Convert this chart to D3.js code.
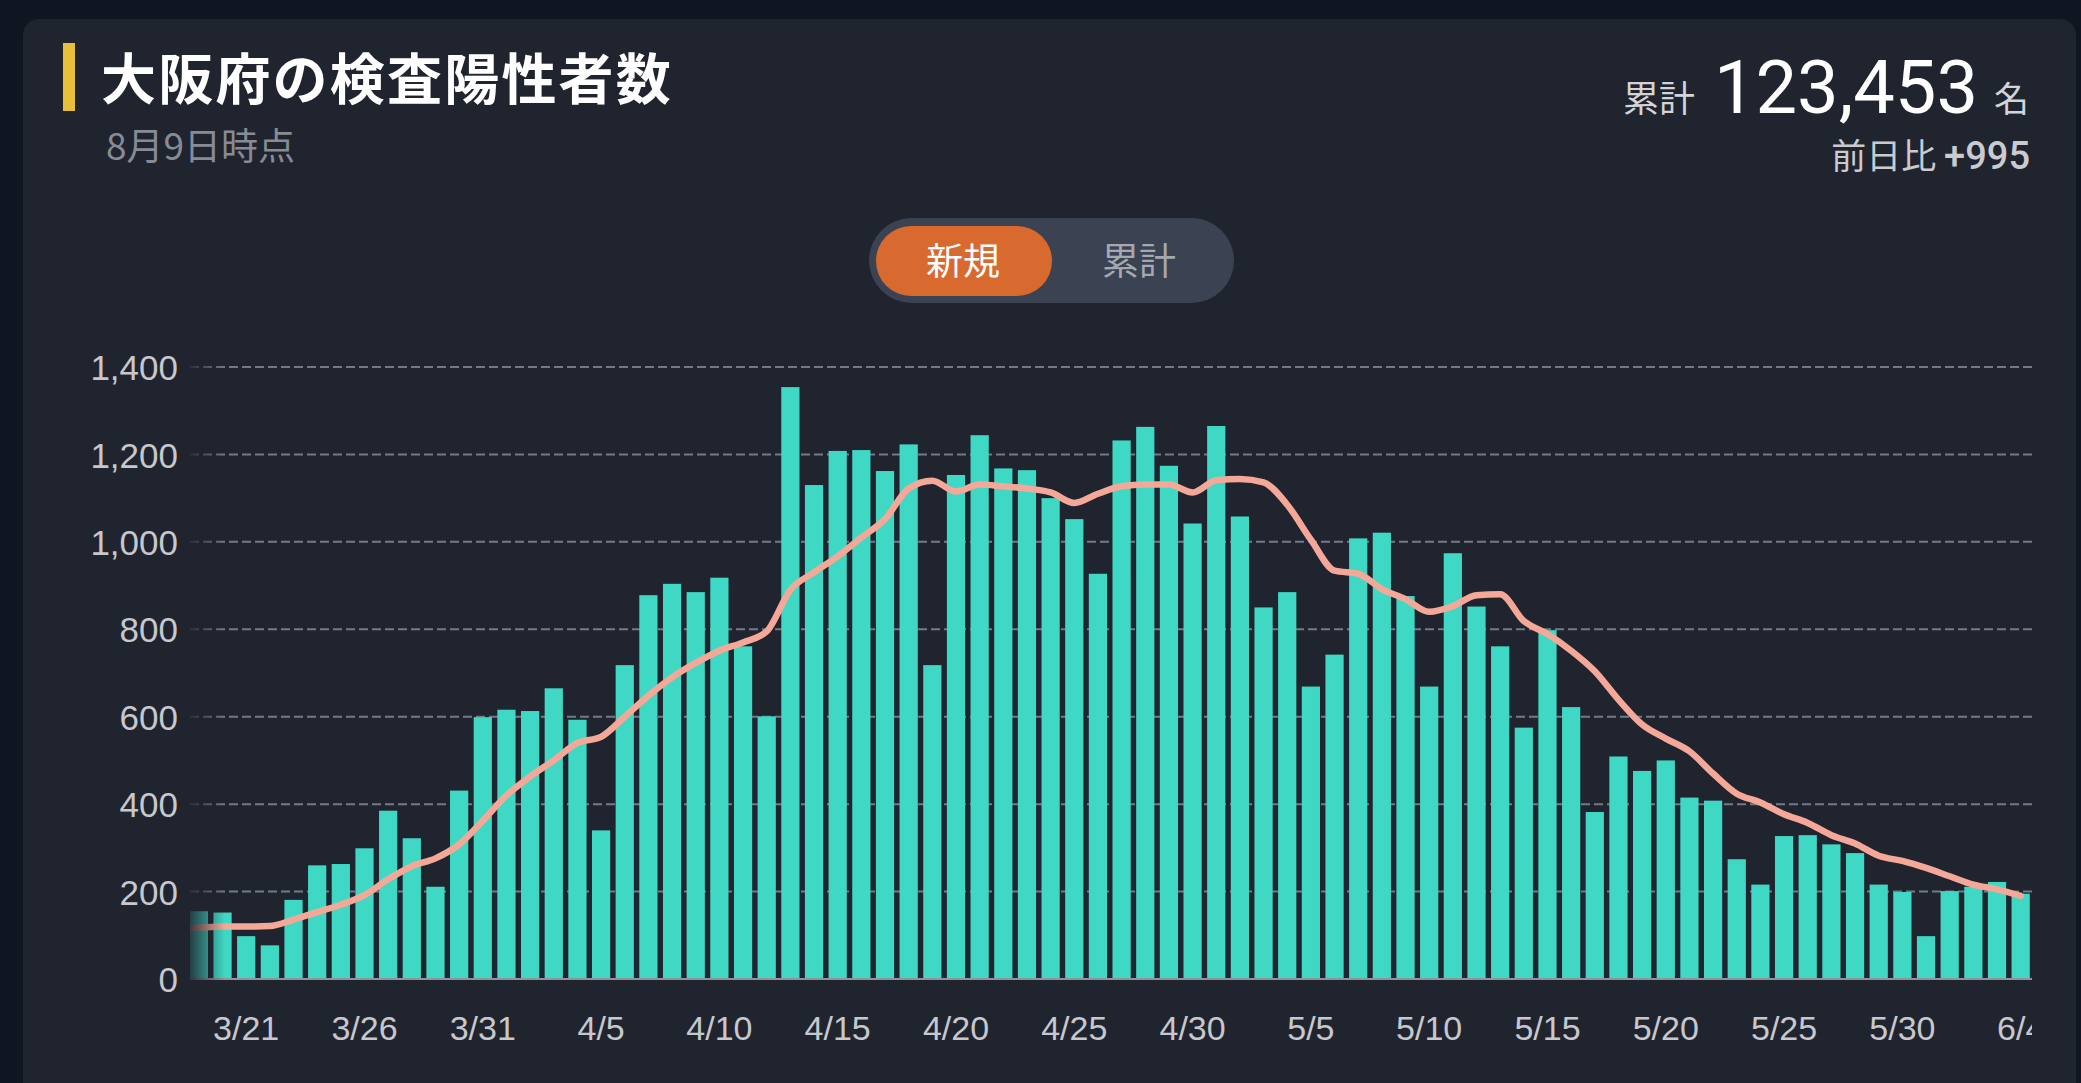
<!DOCTYPE html>
<html><head><meta charset="utf-8">
<script src="https://cdn.jsdelivr.net/npm/d3@7"></script>
<style>
html,body{margin:0;padding:0;background:#0f1621;}
svg{display:block;}
</style></head>
<body>
<svg id="c" width="2081" height="1083"></svg>
<script>
// ---- data ----
const dates = [
 "3/19","3/20","3/21","3/22","3/23","3/24","3/25","3/26","3/27","3/28","3/29","3/30","3/31",
 "4/1","4/2","4/3","4/4","4/5","4/6","4/7","4/8","4/9","4/10","4/11","4/12","4/13","4/14","4/15",
 "4/16","4/17","4/18","4/19","4/20","4/21","4/22","4/23","4/24","4/25","4/26","4/27","4/28","4/29","4/30",
 "5/1","5/2","5/3","5/4","5/5","5/6","5/7","5/8","5/9","5/10","5/11","5/12","5/13","5/14","5/15",
 "5/16","5/17","5/18","5/19","5/20","5/21","5/22","5/23","5/24","5/25","5/26","5/27","5/28","5/29","5/30","5/31",
 "6/1","6/2","6/3","6/4"
];
const newCases = [
 155,152,98,77,181,260,263,299,385,322,211,431,599,
 616,613,665,593,340,718,878,904,885,918,761,601,1354,1130,1208,
 1210,1162,1223,718,1153,1244,1168,1164,1100,1052,927,1232,1263,1174,1042,
 1265,1058,850,885,669,742,1008,1021,876,669,974,852,761,575,798,
 622,382,509,476,500,415,408,274,216,327,329,308,288,216,199,98,
 201,211,222,195
];
const avg7 = [
 117,120,120,121,136,153,170,192,228,258,276,308,362,
 420,463,500,540,554,600,648,690,723,751,770,795,890,930,967,
 1010,1052,1122,1140,1115,1131,1127,1122,1113,1089,1110,1127,1131,1131,1113,
 1141,1144,1136,1085,1005,934,927,892,869,840,853,878,880,819,789,
 751,704,639,582,550,521,470,424,404,377,357,329,310,282,270,254,
 235,216,205,190
];
const avgLeadIn = 114; // 7-day average on 3/18 (just off the left edge)
const xTickLabels = ["3/21","3/26","3/31","4/5","4/10","4/15","4/20","4/25","4/30","5/5","5/10","5/15","5/20","5/25","5/30","6/4"];
const yTicks = [0,200,400,600,800,1000,1200,1400];
const titleText = "大阪府の検査陽性者数";
const asOfText = "8月9日時点";
const totalLabel = "累計";
const totalValue = "123,453";
const totalUnit = "名";
const deltaLabel = "前日比";
const deltaValue = "+995";
const toggleLabels = ["新規","累計"];

// ---- drawing ----
const W = 2081, H = 1083;
const svg = d3.select("#c");
const CJK = "'Noto Sans CJK JP','Noto Sans CJK SC',sans-serif";
const NUM = "Roboto,'Noto Sans',sans-serif";
const AX = "'Liberation Sans',Arial,sans-serif";
const cardColor = "#20242f";

svg.append("rect").attr("width", W).attr("height", H).attr("fill", "#0f1621");
svg.append("rect").attr("x", 23).attr("y", 19).attr("width", 2053).attr("height", 1200)
   .attr("rx", 16).attr("fill", cardColor);

// header
svg.append("rect").attr("x", 63).attr("y", 43).attr("width", 12).attr("height", 68)
   .attr("fill", "#e8bf3a");
svg.append("text").attr("x", 101).attr("y", 75).attr("dominant-baseline", "central")
   .attr("font-family", CJK).attr("font-weight", 700).attr("font-size", 55)
   .attr("letter-spacing", 2.2).attr("fill", "#ffffff").text(titleText);
svg.append("text").attr("x", 106).attr("y", 144).attr("dominant-baseline", "central")
   .attr("font-family", CJK).attr("font-size", 37).attr("fill", "#868b95").text(asOfText);

svg.append("text").attr("x", 1695).attr("y", 112).attr("text-anchor", "end")
   .attr("font-family", CJK).attr("font-size", 36).attr("fill", "#d2d4d8").text(totalLabel);
svg.append("text").attr("x", 1978).attr("y", 113).attr("text-anchor", "end")
   .attr("font-family", NUM).attr("font-size", 74).attr("fill", "#ffffff").text(totalValue);
svg.append("text").attr("x", 2029).attr("y", 112).attr("text-anchor", "end")
   .attr("font-family", CJK).attr("font-size", 35).attr("fill", "#d2d4d8").text(totalUnit);
const dt = svg.append("text").attr("x", 2030).attr("y", 169).attr("text-anchor", "end")
   .attr("fill", "#c9cbcf");
dt.append("tspan").attr("font-family", CJK).attr("font-size", 35).text(deltaLabel + " ");
dt.append("tspan").attr("font-family", NUM).attr("font-size", 38).attr("font-weight", 500).text(deltaValue);

// toggle
svg.append("rect").attr("x", 869).attr("y", 218).attr("width", 365).attr("height", 85)
   .attr("rx", 42.5).attr("fill", "#3b4252");
svg.append("rect").attr("x", 876).attr("y", 226).attr("width", 176).attr("height", 70)
   .attr("rx", 35).attr("fill", "#d96a2f");
svg.append("text").attr("x", 963).attr("y", 259).attr("text-anchor", "middle")
   .attr("dominant-baseline", "central").attr("font-family", CJK).attr("font-size", 37)
   .attr("fill", "#ffffff").text(toggleLabels[0]);
svg.append("text").attr("x", 1139).attr("y", 259).attr("text-anchor", "middle")
   .attr("dominant-baseline", "central").attr("font-family", CJK).attr("font-size", 37)
   .attr("fill", "#a4a8b0").text(toggleLabels[1]);

// scales
const x = d3.scaleBand().domain(dates).range([187.05, 2032.5])
  .paddingInner(0.23).paddingOuter(0.115);
const y = d3.scaleLinear().domain([0, 1400]).range([979, 367]);
const plotL = 190, plotR = 2032;

const defs = svg.append("defs");
defs.append("clipPath").attr("id", "plotClip").append("rect")
  .attr("x", plotL).attr("y", 300).attr("width", plotR - plotL).attr("height", 700);
defs.append("clipPath").attr("id", "axisClip").append("rect")
  .attr("x", plotL - 5).attr("y", 985).attr("width", plotR - plotL + 5).attr("height", 90);
const grad = defs.append("linearGradient").attr("id", "fade")
  .attr("x1", 0).attr("x2", 1).attr("y1", 0).attr("y2", 0);
grad.append("stop").attr("offset", 0).attr("stop-color", cardColor).attr("stop-opacity", 0.92);
grad.append("stop").attr("offset", 1).attr("stop-color", cardColor).attr("stop-opacity", 0);

// gridlines
svg.append("g").selectAll("line").data(yTicks.filter(d => d > 0)).join("line")
  .attr("x1", plotL).attr("x2", plotR)
  .attr("y1", d => y(d)).attr("y2", d => y(d))
  .attr("stroke", "#737988").attr("stroke-width", 2).attr("stroke-dasharray", "9 4");

// y axis labels
const yAxis = svg.append("g").attr("transform", "translate(178,0)")
  .call(d3.axisLeft(y).tickValues(yTicks).tickFormat(d3.format(",")).tickSize(0).tickPadding(0));
yAxis.select(".domain").remove();
yAxis.selectAll("text").attr("font-family", AX).attr("font-size", 35)
  .attr("fill", "#c6c8cd").attr("dy", "0.36em");

// bars
const plot = svg.append("g").attr("clip-path", "url(#plotClip)");
plot.selectAll("rect.bar").data(newCases).join("rect").attr("class", "bar")
  .attr("x", (d, i) => x(dates[i])).attr("width", x.bandwidth())
  .attr("y", d => y(d)).attr("height", d => y(0) - y(d))
  .attr("fill", "#3fd8c4");

// baseline
svg.append("line").attr("x1", plotL).attr("x2", plotR).attr("y1", y(0)).attr("y2", y(0))
  .attr("stroke", "#8e939c").attr("stroke-width", 2);

// left fade (scrolled chart)
svg.append("rect").attr("x", plotL - 3).attr("y", 355).attr("width", 38).attr("height", 628)
  .attr("fill", "url(#fade)");

// 7-day average line
const step = x.step();
const cx = i => x(dates[i]) + x.bandwidth() / 2;
const linePts = [[cx(0) - step, avgLeadIn]].concat(avg7.map((v, i) => [cx(i), v]));
plot.append("path").datum(linePts)
  .attr("d", d3.line().x(d => d[0]).y(d => y(d[1])).curve(d3.curveMonotoneX))
  .attr("fill", "none").attr("stroke", "#f6a898").attr("stroke-width", 6.5)
  .attr("stroke-linejoin", "round").attr("stroke-linecap", "round");

// x axis labels
const xAxis = svg.append("g").attr("clip-path", "url(#axisClip)")
  .append("g").attr("transform", `translate(0,${y(0)})`)
  .call(d3.axisBottom(x).tickValues(xTickLabels).tickSize(0).tickPadding(0));
xAxis.select(".domain").remove();
xAxis.selectAll("text").attr("font-family", AX).attr("font-size", 34)
  .attr("fill", "#c6c8cd").attr("y", 49).attr("dy", "0.36em");
</script>
</body></html>
